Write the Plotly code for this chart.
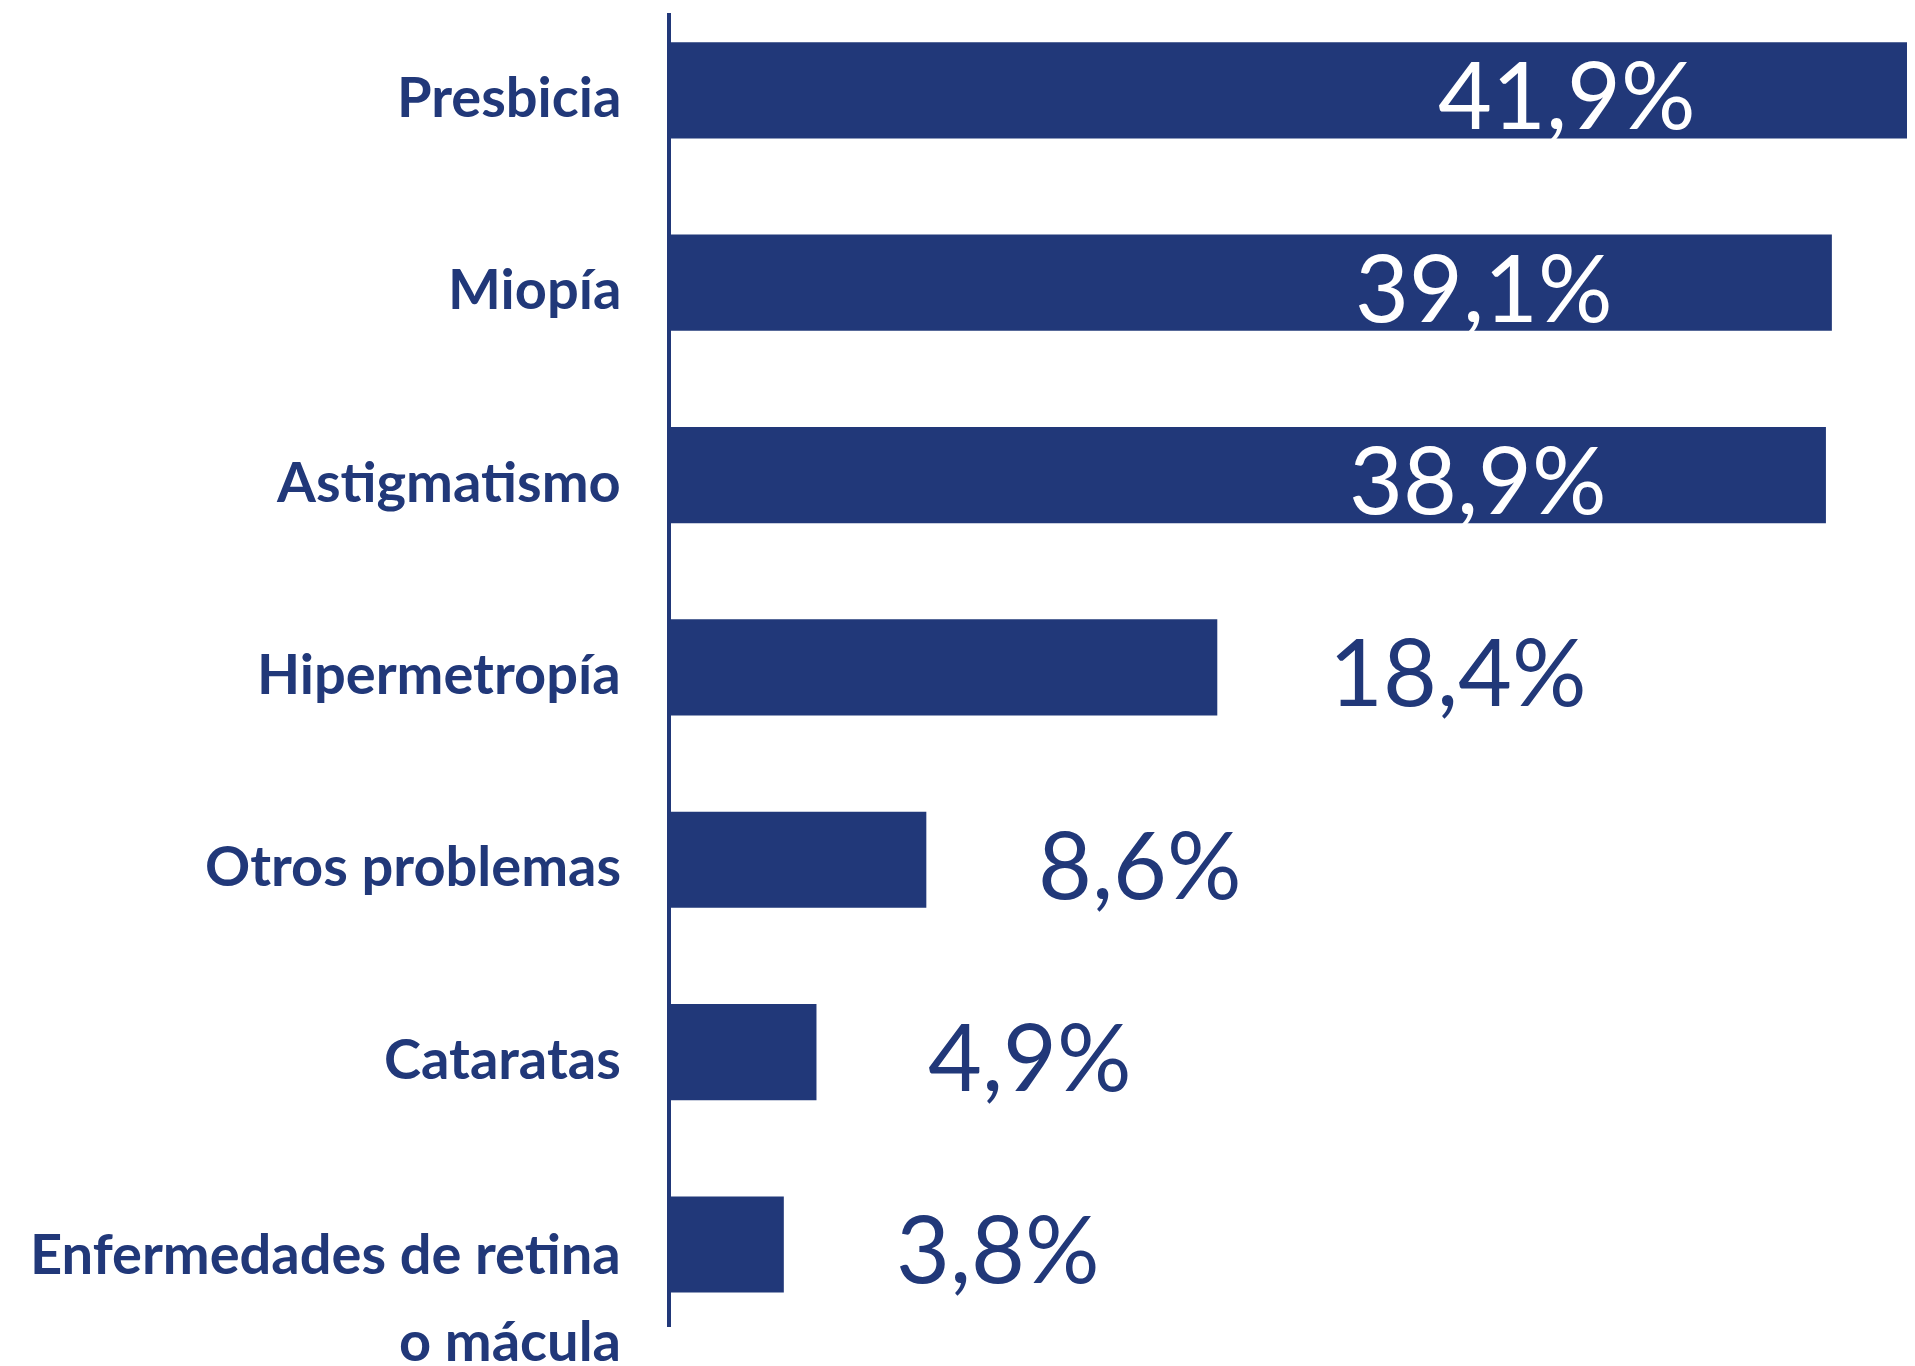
import plotly.graph_objects as go

# ---- data ----
categories = [
    "Presbicia",
    "Miopía",
    "Astigmatismo",
    "Hipermetropía",
    "Otros problemas",
    "Cataratas",
    "Enfermedades de retina<br>o mácula",
]
values = [41.9, 39.1, 38.9, 18.4, 8.6, 4.9, 3.8]

# ---- style ----
NAVY = "#213879"
LABEL_FONT = "Lato"
VALUE_SIZE = 93
CAT_SIZE = 56
LINE_PITCH = 87
CAT_DROP = 5
MULTI_OFFSET = 3

def fmt(v):
    return f"{v:.1f}".replace(".", ",") + "%"

fig = go.Figure(
    go.Bar(
        x=values,
        y=categories,
        orientation="h",
        marker=dict(color=NAVY, line=dict(width=0)),
        hoverinfo="skip",
    )
)

annotations = []
vmax = max(values)
for cat, v in zip(categories, values):
    inside = v >= 0.5 * vmax
    annotations.append(
        dict(
            x=v, y=cat, xref="x", yref="y",
            text=fmt(v),
            showarrow=False,
            xanchor="right" if inside else "left",
            yanchor="middle",
            xshift=-218 if inside else 110,
            yshift=-3,
            font=dict(family=LABEL_FONT, size=VALUE_SIZE,
                      color="white" if inside else NAVY),
        )
    )
    # category labels (left of axis)
    lines = cat.split("<br>")
    for i, line in enumerate(lines):
        annotations.append(
            dict(
                x=0, y=cat, xref="paper", yref="y",
                text=line,
                showarrow=False,
                xanchor="right",
                yanchor="middle",
                xshift=-48,
                yshift=-CAT_DROP - i * LINE_PITCH
                       - (MULTI_OFFSET if len(lines) > 1 else 0),
                font=dict(family=LABEL_FONT, size=CAT_SIZE, color=NAVY,
                          weight="bold"),
            )
        )

fig.update_layout(
    width=1907,
    height=1358,
    margin=dict(l=663, r=0, t=5, b=39, pad=0),
    paper_bgcolor="white",
    plot_bgcolor="white",
    bargap=0.5,
    showlegend=False,
    annotations=annotations,
    xaxis=dict(range=[0, vmax], visible=False, fixedrange=True),
    yaxis=dict(
        type="category",
        range=[6.429, -0.402],
        showline=True,
        linecolor=NAVY,
        linewidth=4,
        showticklabels=False,
        ticks="",
        showgrid=False,
        zeroline=False,
        fixedrange=True,
    ),
)

fig.write_html("out.html")
